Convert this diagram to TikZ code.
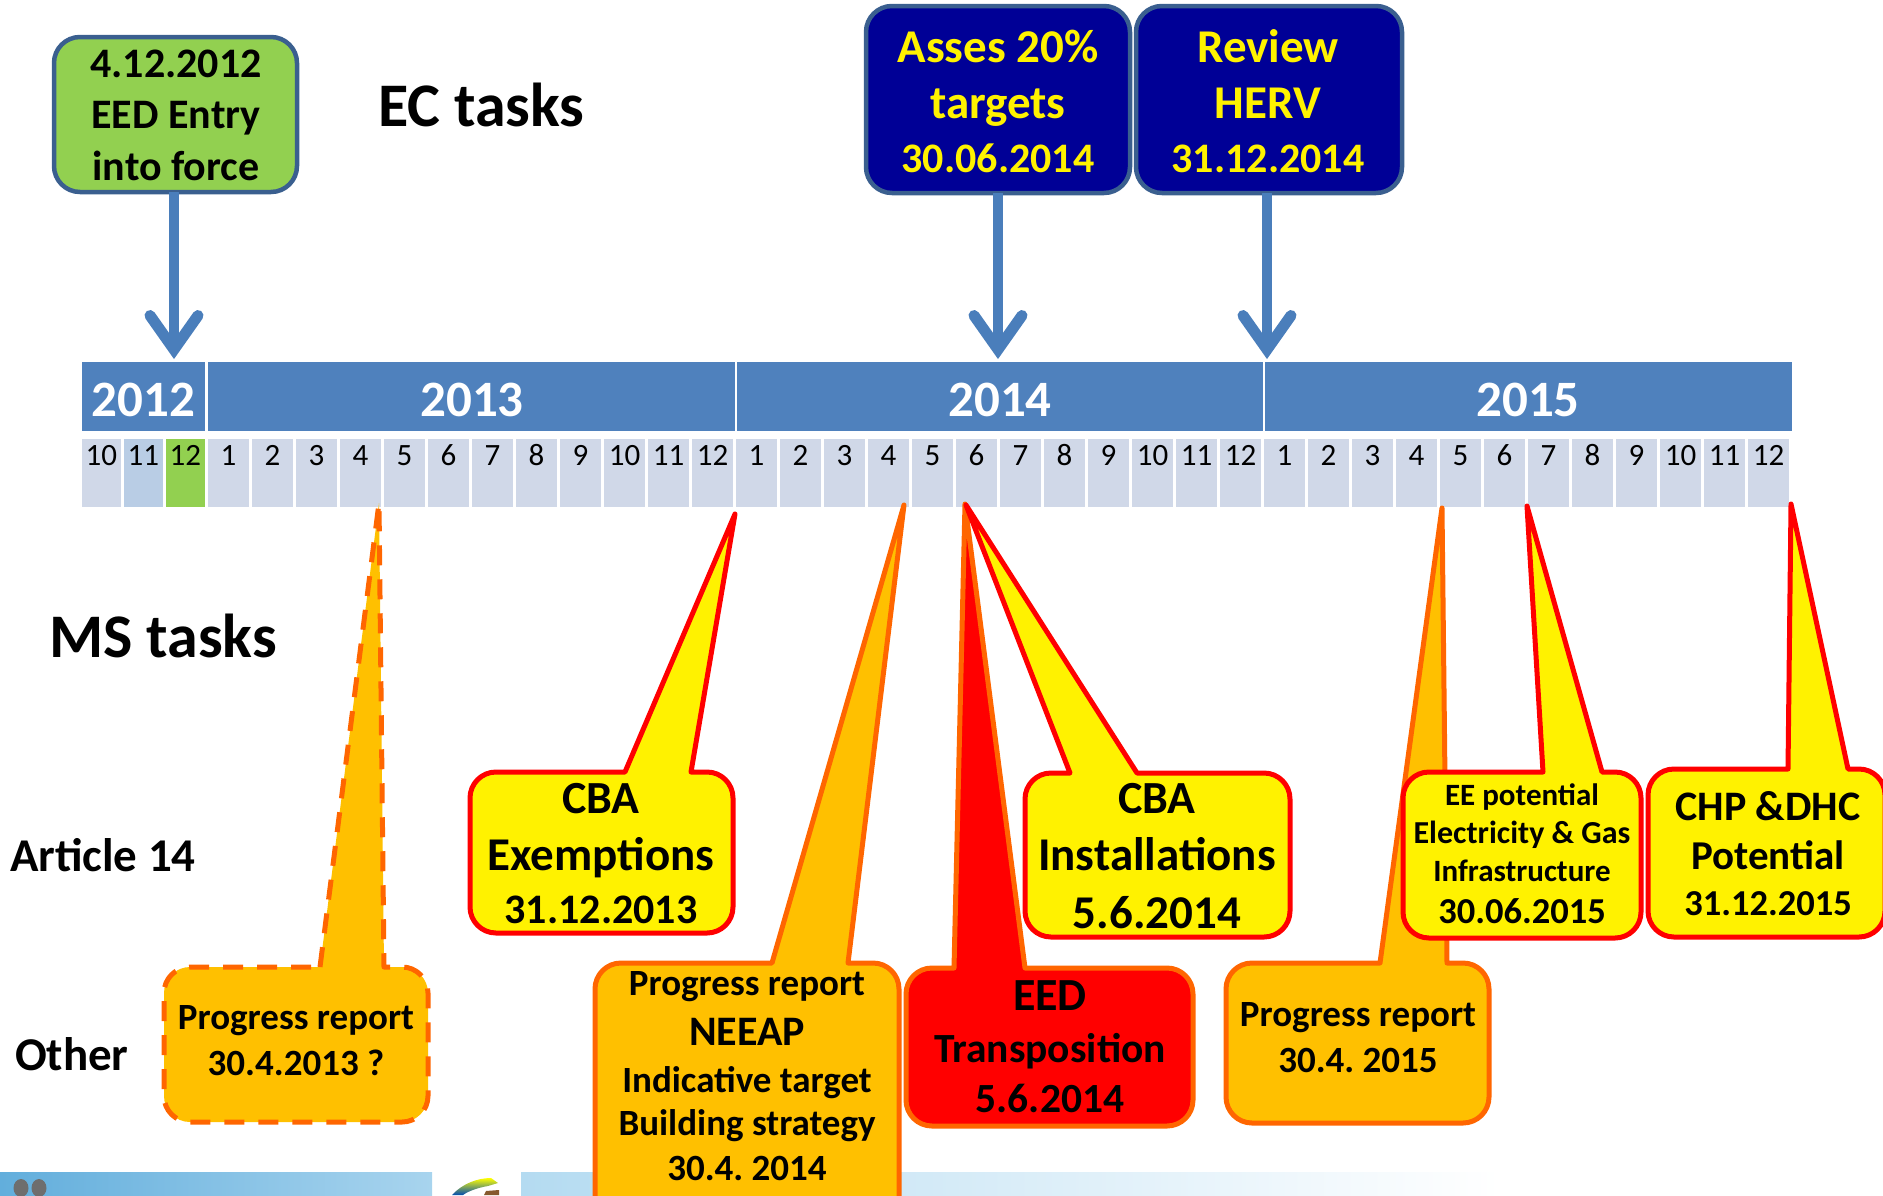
\documentclass[tikz,border=0pt]{standalone}
\usepackage{fontspec}
\setmainfont{Carlito}

\definecolor{barblue}{HTML}{4F81BD}
\definecolor{cellgray}{HTML}{D0D8E8}
\definecolor{celllight}{HTML}{B9CDE5}
\definecolor{leafgreen}{HTML}{92D050}
\definecolor{frameblue}{HTML}{3A5F8F}
\definecolor{navy}{HTML}{000096}
\definecolor{amber}{HTML}{FFC000}
\definecolor{tangerine}{HTML}{FF6600}
\definecolor{arrowblue}{HTML}{4A7EBB}
\definecolor{bandA}{HTML}{62AEDC}
\definecolor{bandB}{HTML}{A8D4EE}
\definecolor{bandC}{HTML}{B4DBF1}
\definecolor{dotgray}{HTML}{6E6E6E}

\newcommand\fsz[1]{\fontsize{#1}{#1}\selectfont}
\def\crad{26}
\def\bzk{0.5523}
% speech bubble: #1 style, #2 left, #3 top, #4 right, #5 bottom,
% #6/#7 tail base x (on the top edge), #8/#9 tail tip
\newcommand\bubble[9]{%
  \draw[#1] (#6,#3) -- (#8,#9) -- (#7,#3)
    -- ({#4-\crad},#3) .. controls ({#4-\crad+\bzk*\crad},#3) and (#4,{#3+\crad-\bzk*\crad}) .. (#4,{#3+\crad})
    -- (#4,{#5-\crad}) .. controls (#4,{#5-\crad+\bzk*\crad}) and ({#4-\crad+\bzk*\crad},#5) .. ({#4-\crad},#5)
    -- ({#2+\crad},#5) .. controls ({#2+\crad-\bzk*\crad},#5) and (#2,{#5-\crad+\bzk*\crad}) .. (#2,{#5-\crad})
    -- (#2,{#3+\crad}) .. controls (#2,{#3+\crad-\bzk*\crad}) and ({#2+\crad-\bzk*\crad},#3) .. ({#2+\crad},#3)
    -- cycle;}

\frenchspacing
\begin{document}
\begin{tikzpicture}[x=1pt,y=-1pt,
  txt/.style={anchor=base,inner sep=0pt,outer sep=0pt,font=\bfseries},
  heading/.style={anchor=base west,inner sep=0pt,outer sep=0pt,font=\bfseries\fsz{62}},
  rowlbl/.style={anchor=base west,inner sep=0pt,outer sep=0pt,font=\bfseries\fsz{47}},
  yearlbl/.style={anchor=base,inner sep=0pt,text=white,font=\bfseries\fsz{51}},
  monthlbl/.style={anchor=base,inner sep=0pt,font=\fsz{31}},
  ecbox/.style={draw=frameblue,line width=4.5pt,rounded corners=26pt,inner sep=0pt,outer sep=0pt},
  ecshaft/.style={draw=arrowblue,line width=10.5pt},
  ecbarb/.style={draw=arrowblue,line width=11pt,line cap=round,line join=miter},
  yellowcall/.style={fill=yellow,draw=red,line width=5pt,line join=round},
  ambercall/.style={fill=amber,draw=tangerine,line width=5pt,line join=round},
  redcall/.style={fill=red,draw=tangerine,line width=5pt,line join=round},
  dashcall/.style={ambercall,dash pattern=on 20pt off 14pt}]

\useasboundingbox (0,0) rectangle (1883,1195);
\clip (0,0) rectangle (1883,1195);

% footer band
\shade[left color=bandA,right color=bandB] (0,1172) rectangle (432,1195);
\fill[dotgray] (21,1188) ellipse[x radius=7.5,y radius=9];
\fill[dotgray] (39,1188) ellipse[x radius=7.5,y radius=9];
\shade[top color=yellow,bottom color=teal!60!blue]
  (452,1195) .. controls (462,1184) and (477,1178) .. (491,1178) -- (498,1183)
  -- (488,1186) .. controls (476,1188) and (467,1192) .. (463,1195) -- cycle;
\fill[brown!70!black] (486,1191) -- (499,1190) -- (499,1195) -- (484,1195) -- cycle;
\shade[left color=bandC,right color=white] (521,1172) rectangle (1500,1195);

% year bar
\fill[barblue] (82,362) rectangle (1792,431);
\foreach \sx in {206.5,736,1264}
  \draw[white,line width=2.5pt] (\sx,362) -- (\sx,431);
\node[yearlbl] (y2012) at (143.5,416) {2012};
\node[yearlbl] (y2013) at (472,416) {2013};
\node[yearlbl] (y2014) at (1000,416) {2014};
\node[yearlbl] (y2015) at (1528,416) {2015};

% month cells
\foreach \i/\c/\n in {0/cellgray/10,1/celllight/11,2/leafgreen/12}{
  \fill[\c] ({82+42*\i},439) rectangle ({120.5+42*\i},507);
  \node[monthlbl] (m12-\n) at ({101.25+42*\i},465) {\n};
}
\foreach \yr in {0,1,2}{
  \foreach \m in {1,...,12}{
    \pgfmathsetmacro\xs{208+(\yr*12+\m-1)*44}
    \fill[cellgray] (\xs,439) rectangle ({\xs+41},507);
    \node[monthlbl] (m\yr-\m) at ({\xs+20.5},465) {\m};
  }
}

% headings and row labels
\node[heading] (ec) at (378,126) {EC tasks};
\node[heading] (ms) at (49,657) {MS tasks};
\node[rowlbl] (art) at (10,871) {Article 14};
\node[rowlbl] (oth) at (15,1070) {Other};

% EC boxes
\node[ecbox,fill=leafgreen,minimum width=243pt,minimum height=155pt] (entry) at (175.5,114.5) {};
\node[txt,font=\bfseries\fsz{42}] (entry1) at (176,77) {4.12.2012};
\node[txt,font=\bfseries\fsz{42}] (entry2) at (176,128) {EED Entry};
\node[txt,font=\bfseries\fsz{42}] (entry3) at (176,180) {into force};

\node[ecbox,fill=navy,minimum width=264pt,minimum height=187pt] (asses) at (998,99.5) {};
\node[txt,text=yellow,font=\bfseries\fsz{47}] (asses1) at (998,62) {Asses 20\%};
\node[txt,text=yellow,font=\bfseries\fsz{47}] (asses2) at (998,118) {targets};
\node[txt,text=yellow,font=\bfseries\fsz{42}] (asses3) at (998,172) {30.06.2014};

\node[ecbox,fill=navy,minimum width=266pt,minimum height=187pt] (review) at (1269,99.5) {};
\node[txt,text=yellow,font=\bfseries\fsz{47}] (review1) at (1268,62) {Review};
\node[txt,text=yellow,font=\bfseries\fsz{47}] (review2) at (1268,118) {HERV};
\node[txt,text=yellow,font=\bfseries\fsz{42}] (review3) at (1268,172) {31.12.2014};

% arrows onto the time line
\coordinate (tipE) at (174,349.5);
\coordinate (tipA) at (998,349.5);
\coordinate (tipR) at (1267,349.5);
\foreach \b/\t in {entry/tipE,asses/tipA,review/tipR}{
  \draw[ecshaft] (\b.south -| \t) -- (\t);
  \draw[ecbarb] ([xshift=-24pt,yshift=34pt]\t) -- (\t) -- ([xshift=24pt,yshift=34pt]\t);
}

% MS task callouts
\bubble{dashcall}{164}{967}{428}{1122}{320}{384}{379}{503}
\node[txt,font=\bfseries\fsz{37}] (pr13a) at (296,1029) {Progress report};
\node[txt,font=\bfseries\fsz{37}] (pr13b) at (296,1075) {30.4.2013 ?};

\bubble{yellowcall}{470}{772}{733}{933}{625}{691}{735}{514}
\node[txt,font=\bfseries\fsz{46}] (cbae1) at (601,813) {CBA};
\node[txt,font=\bfseries\fsz{47}] (cbae2) at (601,870) {Exemptions};
\node[txt,font=\bfseries\fsz{42}] (cbae3) at (601,923) {31.12.2013};

\bubble{ambercall}{595}{963}{899}{1230}{772}{848}{904}{505}
\node[txt,font=\bfseries\fsz{37}] (neeap1) at (747,995) {Progress report};
\node[txt,font=\bfseries\fsz{42}] (neeap2) at (747,1045) {NEEAP};
\node[txt,font=\bfseries\fsz{37}] (neeap3) at (747,1092) {Indicative target};
\node[txt,font=\bfseries\fsz{37}] (neeap4) at (747,1135) {Building strategy};
\node[txt,font=\bfseries\fsz{37}] (neeap5) at (747,1180) {30.4. 2014};

\bubble{redcall}{906}{968}{1193}{1126}{954}{1025}{965}{504}
\node[txt,font=\bfseries\fsz{46}] (eed1) at (1050,1010) {EED};
\node[txt,font=\bfseries\fsz{41.5}] (eed2) at (1050,1062) {Transposition};
\node[txt,font=\bfseries\fsz{41.5}] (eed3) at (1050,1112) {5.6.2014};

\bubble{yellowcall}{1025}{773}{1290}{937}{1070}{1137}{966}{505}
\node[txt,font=\bfseries\fsz{46}] (cbai1) at (1157,813) {CBA};
\node[txt,font=\bfseries\fsz{47}] (cbai2) at (1157,870) {Installations};
\node[txt,font=\bfseries\fsz{47}] (cbai3) at (1157,928) {5.6.2014};

\bubble{ambercall}{1226}{963}{1489}{1123}{1380}{1447}{1442}{508}
\node[txt,font=\bfseries\fsz{37}] (pr15a) at (1358,1026) {Progress report};
\node[txt,font=\bfseries\fsz{37}] (pr15b) at (1358,1072) {30.4. 2015};

\bubble{yellowcall}{1403}{772}{1641}{938}{1543}{1602}{1527}{506}
\node[txt,font=\bfseries\fsz{31}] (eep1) at (1522,805) {EE potential};
\node[txt,font=\bfseries\fsz{32}] (eep2) at (1522,843) {Electricity \& Gas};
\node[txt,font=\bfseries\fsz{31}] (eep3) at (1522,881) {Infrastructure};
\node[txt,font=\bfseries\fsz{36.5}] (eep4) at (1522,923) {30.06.2015};

\bubble{yellowcall}{1648}{769}{1885}{937}{1788}{1848}{1791}{504}
\node[txt,font=\bfseries\fsz{42}] (chp1) at (1768,820) {CHP \&DHC};
\node[txt,font=\bfseries\fsz{41}] (chp2) at (1768,869) {Potential};
\node[txt,font=\bfseries\fsz{36.5}] (chp3) at (1768,915) {31.12.2015};
\end{tikzpicture}
\end{document}
